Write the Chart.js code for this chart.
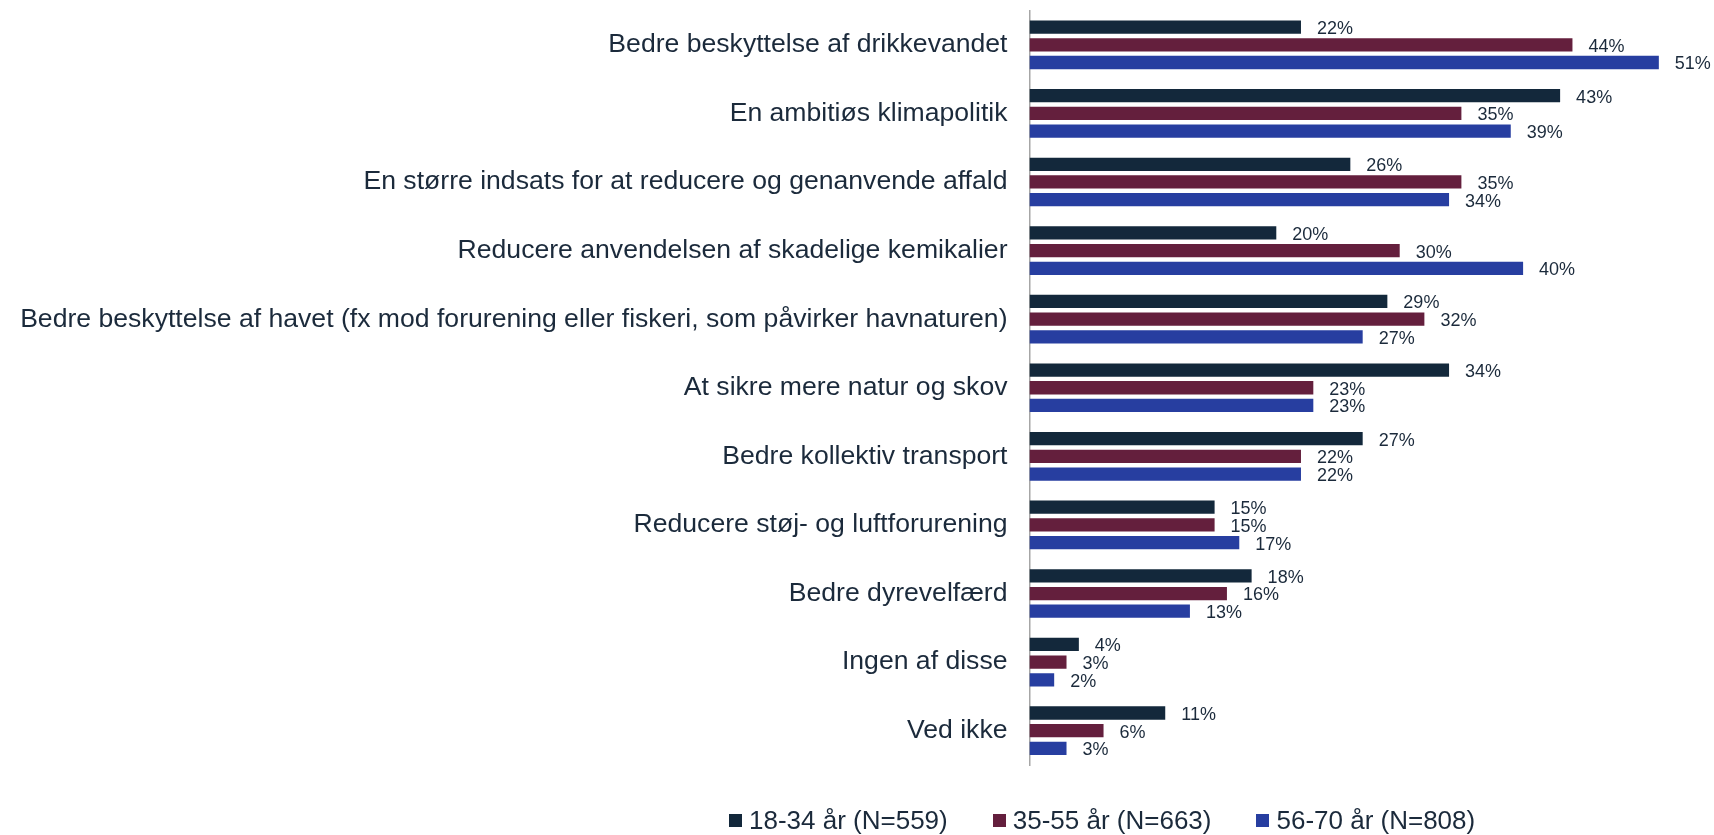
<!DOCTYPE html>
<html>
<head>
<meta charset="utf-8">
<script src="https://cdn.jsdelivr.net/npm/chart.js@4/dist/chart.umd.min.js"></script>
<style>
  html, body { margin: 0; padding: 0; background: #fff; }
  #wrap { position: relative; width: 1714px; height: 835px; }
  #legend {
    position: absolute; left: 729px; top: 807px; height: 27px;
    display: flex; align-items: center; gap: 45px;
    font-family: "Liberation Sans", Arial, sans-serif; font-size: 26px; color: #1b2a3b;
  }
  #legend .item { display: flex; align-items: center; }
  #legend .box { width: 13px; height: 13px; margin-right: 7px; }
</style>
</head>
<body>
<div id="wrap">
  <canvas id="chart" width="1714" height="835"></canvas>
  <div id="legend"></div>
</div>
<script>
// kategorier og værdier
const categories = [
  'Bedre beskyttelse af drikkevandet',
  'En ambitiøs klimapolitik',
  'En større indsats for at reducere og genanvende affald',
  'Reducere anvendelsen af skadelige kemikalier',
  'Bedre beskyttelse af havet (fx mod forurening eller fiskeri, som påvirker havnaturen)',
  'At sikre mere natur og skov',
  'Bedre kollektiv transport',
  'Reducere støj- og luftforurening',
  'Bedre dyrevelfærd',
  'Ingen af disse',
  'Ved ikke'
]
const seriesNames = ['18-34 år (N=559)', '35-55 år (N=663)', '56-70 år (N=808)']
const age18to34 = [22, 43, 26, 20, 29, 34, 27, 15, 18, 4, 11]
const age35to55 = [44, 35, 35, 30, 32, 23, 22, 15, 16, 3, 6]
const age56to70 = [51, 39, 34, 40, 27, 23, 22, 17, 13, 2, 3]

const colors = ['#13283b', '#641f3d', '#273ea0']
const textColor = '#1b2a3b'
const font = '"Liberation Sans", Arial, sans-serif'

// procent-labels efter hver bar
const valueLabels = {
  id: 'valueLabels',
  afterDatasetsDraw(chart) {
    const ctx = chart.ctx
    ctx.save()
    ctx.font = '18px ' + font
    ctx.fillStyle = textColor
    ctx.textAlign = 'left'
    ctx.textBaseline = 'middle'
    chart.data.datasets.forEach((ds, i) => {
      chart.getDatasetMeta(i).data.forEach((bar, j) => {
        ctx.fillText(ds.data[j] + '%', bar.x + 16, bar.y + 2)
      })
    })
    ctx.restore()
  }
}

const ctx = document.querySelector('#chart')
new Chart(ctx, {
  type: 'bar',
  data: {
    labels: categories,
    datasets: [age18to34, age35to55, age56to70].map((values, i) => ({
      label: seriesNames[i],
      data: values,
      backgroundColor: colors[i],
      barPercentage: 0.75,
      categoryPercentage: 0.774
    }))
  },
  options: {
    indexAxis: 'y',
    responsive: false,
    animation: false,
    layout: { padding: { top: 10.5, bottom: 70, right: 5.8, left: 0 } },
    plugins: {
      legend: { display: false },
      tooltip: { enabled: false }
    },
    scales: {
      x: {
        display: false,
        min: 0,
        max: 55
      },
      y: {
        grid: { display: false, drawTicks: false },
        border: { display: true, color: '#a6a6a6', width: 1.5 },
        ticks: {
          padding: 22,
          color: textColor,
          font: { family: font, size: 26.6 }
        },
        afterFit: (scale) => {
          // fast bredde og ingen ekstra luft over/under aksen
          scale.width = 1029.5
          scale.paddingTop = 0
          scale.paddingBottom = 0
        }
      }
    }
  },
  plugins: [valueLabels]
})

// legende under diagrammet
const legendEl = document.querySelector('#legend')
seriesNames.forEach((name, i) => {
  const item = document.createElement('div')
  item.className = 'item'
  item.innerHTML = '<span class="box" style="background:' + colors[i] + '"></span><span>' + name + '</span>'
  legendEl.appendChild(item)
})
</script>
</body>
</html>
